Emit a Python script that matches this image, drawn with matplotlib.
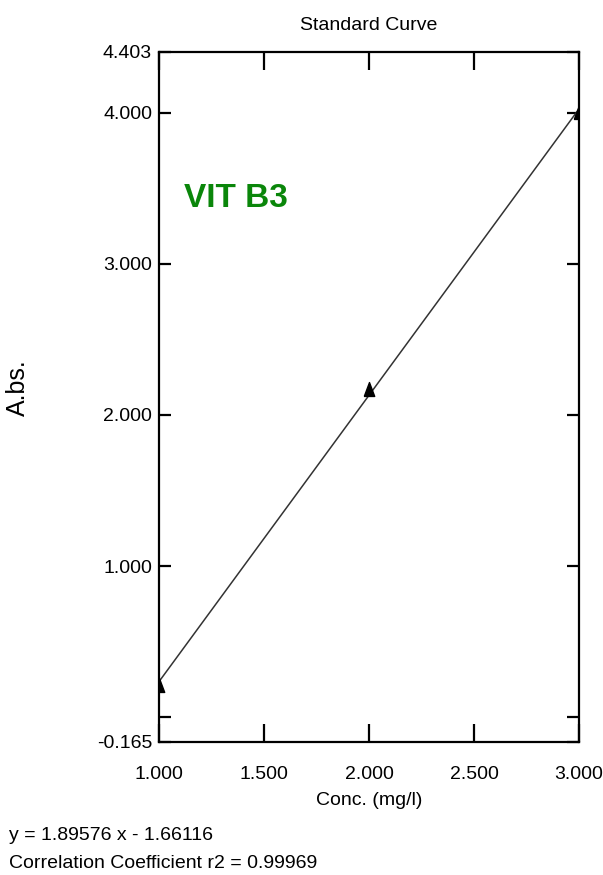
import numpy as np
import matplotlib
matplotlib.use("Agg")
import matplotlib.pyplot as plt

# pontos da curva padrão (VIT B3)
conc = [1.0, 2.0, 3.0]
absorb = [0.215, 2.169, 4.007]

# ajuste linear informado no gráfico
slope = 1.89576
intercept = -1.66116
r2 = 0.99969

x_lim = (1.0, 3.0)
y_lim = (-0.165, 4.403)
x_ticks = [1.0, 1.5, 2.0, 2.5, 3.0]
x_ticklabels = ["1.000", "1.500", "2.000", "2.500", "3.000"]
y_ticks = [-0.165, 0.0, 1.0, 2.0, 3.0, 4.0, 4.403]
y_ticklabels = ["-0.165", "", "1.000", "2.000", "3.000", "4.000", "4.403"]

plt.rcParams['font.family'] = ['Liberation Sans', 'DejaVu Sans']
FS = 14

fig = plt.figure(figsize=(6.03, 8.75), dpi=100)
ax = fig.add_axes([0.2637, 0.152, 0.6965, 0.7886])

xs = np.array(x_lim)
ax.plot(xs, slope * xs + intercept, color="#333333", linewidth=1.1)
# triângulo um pouco alongado, como no original
tri = [(-0.75, -1.0), (0.75, -1.0), (0.0, 1.0), (-0.75, -1.0)]
ax.plot(conc, absorb, linestyle="none", marker=tri, markersize=10,
        color="black")

ax.set_xlim(*x_lim)
ax.set_ylim(*y_lim)
ax.set_xticks(x_ticks)
ax.set_xticklabels(x_ticklabels, fontsize=FS)
ax.set_yticks(y_ticks)
ax.set_yticklabels(y_ticklabels, fontsize=FS)

ax.tick_params(axis="x", direction="in", length=13, width=1.6, pad=17,
               top=True, bottom=True)
ax.tick_params(axis="y", direction="in", length=8.5, width=1.6, pad=5,
               left=True, right=True)
for s in ax.spines.values():
    s.set_linewidth(1.6)

ax.set_title("Standard Curve", fontsize=FS, pad=15.5)
ax.set_xlabel("Conc. (mg/l)", fontsize=FS, labelpad=7)
fig.text(0.03, 0.5566, "A.bs.", rotation=90, fontsize=18,
         ha="center", va="center")

ax.text(0.06, 0.788, "VIT B3", transform=ax.transAxes, color="#0a860a",
        fontsize=24, fontweight="bold", va="center")

fig.text(0.015, 1 - 836 / 875, f"y = {slope:.5f} x - {abs(intercept):.5f}",
         fontsize=FS, va="center")
fig.text(0.015, 1 - 864 / 875, f"Correlation Coefficient r2 = {r2:.5f}",
         fontsize=FS, va="center")

fig.savefig("out.png", dpi=100)
